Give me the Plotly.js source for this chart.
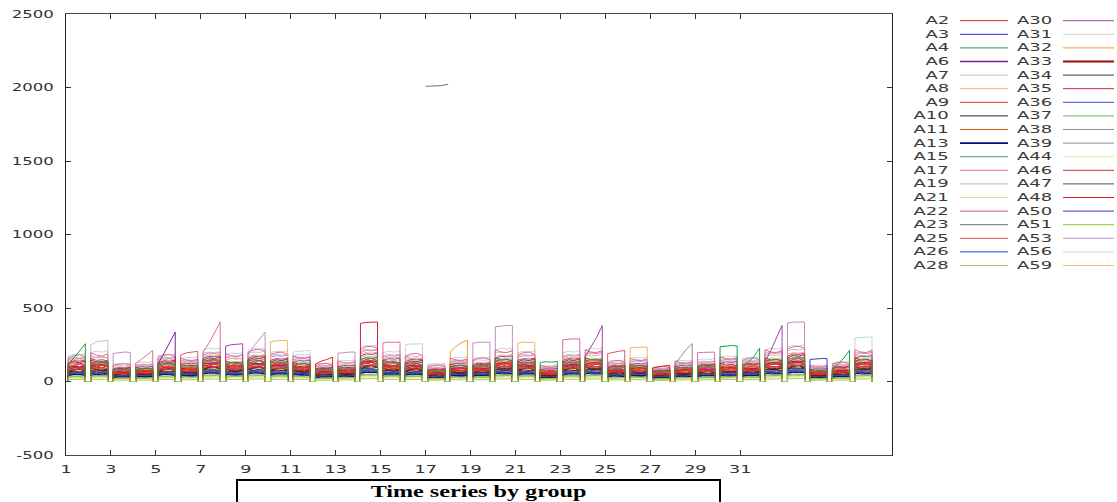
<!DOCTYPE html>
<html><head><meta charset="utf-8">
<script src="https://cdn.plot.ly/plotly-3.0.1.min.js"></script>
<style>
html,body{margin:0;padding:0;background:#fff;}
#chart{width:1117px;height:502px;}
</style></head><body><div id="chart"></div>
<script>
// ---------------- data ----------------
const seriesNames = ['A2','A3','A4','A6','A7','A8','A9','A10','A11','A13','A15','A17','A19','A21','A22','A23','A25','A26','A28',
                     'A30','A31','A32','A33','A34','A35','A36','A37','A38','A39','A44','A46','A47','A48','A50','A51','A53','A56','A59'];
const seriesColors = ['#e02828','#2828c8','#18a040','#7a1a9a','#c4c4c4','#f4b070','#e03434','#2a2a2a','#e2502a','#0a0a80','#38a878','#e46aa0','#aebcd0','#e8d890','#d25a6a','#707070','#e25050','#2040d0','#a0d058',
                      '#a040a8','#d0d0d0','#f09a38','#a00a0a','#3c3c3c','#d0203e','#3050c4','#6ac06a','#8e8e8e','#8090a4','#f0e2a4','#c03838','#505050','#e41e1e','#3c3cd4','#90c030','#c48cc4','#d6d6d6','#f0c080'];
const legendWidths = [1,1,1,1.6,1,1,1,1,1,1.8,1,1,1,1,1,1,1,1,1, 1,1,1,1.8,1,1,1,1,1,1,1,1,1,1,1,1,1,1,1];
const drawOrder = ['A31','A7','A56','A19','A44','A21','A59','A53','A17','A8','A30','A38','A39','A23','A32','A22','A25','A46','A15','A37',
                   'A36','A26','A50','A3','A13','A34','A47','A10','A33','A6','A9','A48','A35','A11','A2','A4','A51','A28'];

const A2 = [80,95,88,102, 104,96,110,99, 58,52,63,60, 62,70,66,74, 84,92,99,90, 78,86,80,75, 112,104,118,125, 90,98,93,104, 106,115,110,121,
 98,106,100,94, 88,95,84,92, 120,138,150,166, 66,74,70,78, 118,126,115,130, 95,104,110,102, 92,88,97,104, 50,57,53,60, 76,84,88,80,
 82,76,85,90, 108,116,104,112, 96,104,99,110, 54,60,52,58, 98,106,112,104, 112,106,118,124, 68,74,70,65, 82,76,86,90, 92,100,106,110,
 66,72,76,70, 74,80,72,84, 86,80,92,88, 78,84,80,88, 106,114,120,112, 118,126,132,124, 54,50,58,62, 64,70,66,74, 108,116,110,122];
const A3 = [60,66,58,64, 72,68,75,70, 40,45,38,44, 44,48,50,46, 62,58,66,64, 54,58,52,60, 75,80,72,78, 64,70,66,72, 78,74,80,76,
 68,72,75,70, 60,66,62,58, 40,44,42,46, 48,52,46,50, 82,88,85,80, 68,74,70,72, 66,62,68,70, 38,42,36,40, 55,58,54,60,
 54,58,60,56, 76,80,74,82, 70,66,72,75, 38,42,40,36, 68,72,74,70, 76,80,78,84, 48,52,50,46, 55,58,54,60, 34,38,36,32,
 48,52,50,54, 52,55,50,56, 58,62,64,60, 55,58,54,60, 76,80,78,74, 82,88,85,90, 38,40,36,42, 45,48,44,50, 76,80,82,78];
const A4 = [120,160,210,257, 125,135,128,140, 75,82,78,86, 80,88,92,86, 112,120,126,118, 100,108,104,112, 138,146,150,142, 120,128,124,132, 140,148,144,136,
 126,134,130,138, 112,120,124,116, 75,80,78,84, 88,94,90,96, 150,160,156,164, 126,134,130,124, 120,128,124,130, 70,74,72,76, 100,106,110,104,
 100,108,104,112, 140,146,150,144, 126,132,128,136, 130,134,132,136, 126,134,130,138, 140,148,144,152, 88,94,90,96, 100,106,110,104, 62,68,66,70,
 88,94,90,96, 95,100,98,104, 236,240,245,242, 110,130,170,227, 138,146,150,144, 150,158,162,156, 70,74,72,76, 90,120,160,211, 140,146,150,144];
const A6 = [95,102,98,106, 108,114,110,104, 64,68,62,70, 70,74,76,72, 120,190,260,336, 86,90,84,92, 118,124,128,122, 102,108,104,110, 118,124,120,128,
 108,112,106,114, 96,102,98,104, 64,68,66,70, 75,80,78,82, 128,136,132,140, 108,112,106,114, 102,108,104,110, 60,64,62,58, 86,90,92,88,
 86,92,88,94, 118,124,120,128, 108,114,110,104, 60,62,58,64, 108,112,116,110, 118,124,128,122, 75,80,78,82, 86,90,92,88, 54,58,56,52,
 75,80,78,82, 80,86,84,88, 92,96,94,98, 86,90,88,92, 118,124,122,128, 130,136,132,140, 60,62,58,64, 70,74,72,76, 118,124,122,128];
const A7 = [158,166,160,170, 250,270,276,280, 104,110,106,112, 114,120,116,122, 158,166,162,170, 140,148,144,150, 194,200,196,204, 168,174,170,176, 194,200,198,206,
 176,184,180,186, 160,166,162,168, 106,110,108,112, 122,128,126,130, 210,218,214,222, 176,184,180,186, 168,174,170,176, 116,120,118,122, 140,146,144,150,
 140,148,144,150, 194,200,198,206, 176,184,180,186, 96,100,98,102, 176,184,180,186, 194,200,198,206, 122,128,126,130, 140,148,144,150, 88,92,90,94,
 122,128,126,130, 132,138,136,140, 150,156,154,158, 140,148,144,150, 194,200,198,206, 210,218,214,222, 96,100,98,102, 114,120,116,122, 194,200,198,206];
const A8 = [138,150,146,156, 152,166,172,160, 92,100,96,104, 100,108,112,104, 140,150,146,154, 124,132,128,136, 170,182,178,186, 148,156,152,160, 170,180,176,184,
 270,276,280,278, 140,148,144,152, 92,98,96,102, 108,116,112,118, 186,196,192,200, 156,164,160,168, 148,156,152,160, 86,90,88,92, 124,132,128,136,
 124,132,128,136, 170,180,176,184, 262,268,265,268, 86,90,88,92, 156,164,160,168, 170,180,176,184, 108,116,112,118, 228,232,234,234, 78,82,80,84,
 108,116,112,118, 116,124,120,126, 132,140,136,142, 124,132,128,136, 170,180,176,184, 186,196,192,200, 86,90,88,92, 100,108,104,110, 170,180,176,184];
const A9 = [84,78,86,80, 92,88,95,86, 52,56,50,58, 56,62,58,60, 78,84,80,86, 70,74,68,76, 96,102,98,104, 84,88,82,90, 96,102,100,94,
 88,92,86,94, 78,84,82,80, 52,56,54,58, 60,66,62,64, 104,110,106,112, 88,92,86,94, 84,88,82,90, 48,52,50,54, 70,74,72,76,
 70,74,72,76, 96,102,100,104, 88,92,86,94, 48,52,50,54, 88,92,86,94, 96,102,100,104, 60,66,62,64, 70,74,72,76, 44,48,46,42,
 60,66,62,64, 66,70,68,72, 74,80,76,78, 70,74,72,76, 96,102,100,104, 104,110,106,112, 48,52,50,54, 56,62,58,60, 96,102,100,104];
const A10 = [60,78,85,70, 95,82,70,76, 40,52,58,46, 58,48,44,56, 62,80,90,72, 70,58,64,52, 76,96,100,84, 88,72,66,80, 78,92,100,86,
 70,86,90,78, 80,66,60,74, 42,54,50,46, 62,50,48,58, 84,100,108,92, 90,74,70,84, 66,82,86,72, 38,48,52,44, 70,58,54,66,
 56,70,74,62, 96,80,76,92, 72,86,92,78, 50,40,38,46, 70,86,92,76, 98,82,78,94, 48,60,64,52, 72,58,56,68, 34,44,46,38,
 62,50,48,58, 52,66,70,56, 76,62,58,72, 56,70,74,60, 98,82,80,94, 84,102,108,90, 50,40,38,46, 46,58,62,50, 98,80,76,92];
const A11 = [95,112,125,110, 130,115,108,124, 64,76,82,70, 86,72,68,80, 96,115,124,108, 104,90,86,100, 120,140,146,130, 124,106,100,118, 118,138,144,128,
 108,126,132,116, 116,100,96,112, 64,78,82,70, 92,78,74,88, 130,150,158,140, 128,112,108,124, 102,120,126,110, 58,70,74,62, 104,90,86,100,
 86,102,108,92, 140,124,118,136, 108,126,132,116, 72,60,58,68, 108,126,132,116, 142,124,118,138, 74,88,92,80, 104,90,86,100, 52,64,66,56,
 92,78,74,88, 80,96,100,86, 110,94,90,106, 86,102,108,92, 142,124,120,138, 130,150,156,138, 72,60,58,68, 70,84,88,74, 142,124,118,138];
const A13 = [42,48,46,44, 52,48,50,54, 28,32,30,34, 30,34,32,36, 44,48,46,42, 38,42,40,44, 52,58,56,54, 46,50,48,52, 54,58,56,52,
 48,52,50,54, 44,48,46,42, 28,32,30,34, 34,38,36,32, 58,62,60,64, 48,52,50,54, 46,50,48,52, 26,30,28,32, 38,42,40,44,
 38,42,40,44, 52,58,56,54, 48,52,50,54, 26,30,28,32, 48,52,50,54, 52,58,56,54, 34,38,36,32, 38,42,40,44, 24,28,26,22,
 34,38,36,32, 36,40,38,42, 40,44,42,46, 38,42,40,44, 52,58,56,54, 58,62,60,64, 26,30,28,32, 30,34,32,36, 52,58,56,54];
const A15 = [46,58,62,50, 68,56,52,62, 30,40,42,34, 44,36,34,42, 48,60,62,50, 54,44,42,50, 58,70,74,62, 64,52,50,60, 60,70,74,64,
 52,64,68,56, 60,50,48,56, 32,40,42,34, 46,38,36,44, 64,78,80,68, 66,54,52,62, 50,62,64,54, 30,36,38,32, 54,44,42,50,
 42,52,54,46, 72,60,58,68, 54,64,68,56, 36,30,28,34, 54,64,68,56, 72,60,58,68, 38,46,48,40, 54,44,42,50, 26,34,34,28,
 46,38,36,44, 40,50,52,42, 56,46,44,52, 42,52,54,46, 72,60,58,68, 64,78,80,68, 36,30,28,34, 34,42,44,36, 72,60,58,68];
const A17 = [160,175,182,168, 195,180,172,188, 108,118,122,112, 125,150,180,211, 165,178,184,170, 158,146,140,152, 200,260,330,405, 188,174,170,184, 200,214,220,206,
 182,196,200,186, 176,162,158,170, 108,120,124,112, 140,128,124,136, 220,236,240,226, 262,268,266,268, 174,188,192,178, 100,110,112,104, 158,146,142,154,
 144,158,162,148, 216,200,196,212, 182,196,200,186, 110,100,98,106, 284,288,290,290, 216,200,196,212, 126,140,144,130, 158,146,142,154, 90,100,102,94,
 140,128,124,136, 196,198,200,200, 168,156,152,164, 144,158,162,148, 216,200,196,212, 220,236,240,226, 110,100,98,106, 118,130,132,122, 216,200,196,212];
const A19 = [120,132,128,136, 146,134,138,130, 80,88,84,90, 88,94,90,96, 120,130,126,134, 108,116,112,118, 148,160,156,162, 128,138,134,140, 150,158,154,162,
 134,146,142,148, 122,130,126,132, 80,88,84,90, 94,102,98,104, 162,174,170,176, 134,146,142,148, 128,138,134,140, 74,80,78,82, 108,116,112,118,
 108,116,112,118, 148,160,156,162, 134,146,142,148, 74,80,78,82, 134,146,142,148, 148,160,156,162, 94,102,98,104, 108,116,112,118, 66,74,70,76,
 94,102,98,104, 100,110,106,112, 114,124,120,126, 108,116,112,118, 148,160,156,162, 162,174,170,176, 74,80,78,82, 88,94,90,96, 148,160,156,162];
const A21 = [25,28,30,26, 32,28,30,34, 16,20,18,22, 18,22,20,24, 25,28,30,26, 22,26,24,28, 30,34,36,32, 28,30,32,26, 30,34,36,32,
 28,32,30,34, 25,28,30,26, 16,20,18,22, 20,22,24,20, 34,38,36,40, 28,32,30,34, 28,30,32,26, 15,18,16,20, 22,26,24,28,
 22,26,24,28, 30,34,36,32, 28,32,30,34, 15,18,16,20, 28,32,30,34, 30,34,36,32, 20,22,24,20, 22,26,24,28, 14,16,15,18,
 20,22,24,20, 21,24,23,26, 24,28,26,30, 22,26,24,28, 30,34,36,32, 34,38,36,40, 15,18,16,20, 18,22,20,24, 30,34,36,32];
const A22 = [110,100,118,106, 112,126,118,130, 74,66,80,70, 76,84,72,82, 114,100,108,120, 180,195,200,205, 126,138,130,142, 118,108,122,112, 136,124,140,128,
 114,128,120,132, 112,100,106,118, 70,78,66,76, 88,80,92,84, 150,136,144,156, 114,128,120,132, 118,108,122,112, 62,70,66,72, 100,92,98,104,
 92,102,96,106, 138,126,132,144, 114,128,120,132, 70,62,68,64, 114,128,120,132, 138,126,132,144, 190,200,206,211, 100,92,98,104, 58,66,62,68,
 88,80,92,84, 94,86,98,90, 106,96,102,110, 92,102,96,106, 138,126,132,144, 150,136,144,156, 70,62,68,64, 82,74,80,76, 138,126,132,144];
const A23 = [95,85,80,92, 92,104,112,98, 64,56,52,60, 60,70,74,64, 96,86,82,92, 74,84,88,78, 116,104,100,112, 90,100,104,94, 116,104,100,112,
 96,106,110,100, 94,84,80,90, 56,64,66,60, 74,66,64,70, 114,126,130,118, 104,94,90,100, 90,100,104,94, 58,50,48,54, 76,86,88,80,
 84,76,72,80, 104,116,120,108, 104,94,90,100, 52,60,62,56, 104,94,90,100, 104,116,120,108, 74,66,64,70, 76,86,88,80, 52,46,44,50,
 66,74,76,70, 78,70,68,74, 80,90,92,84, 84,76,72,80, 104,116,120,108, 126,114,110,122, 52,60,62,56, 68,60,58,64, 104,116,120,108];
const A23_outlierGroup = 17;
const A23_outlierValues = [2008, 2010, 2012, 2022];
const A25 = [92,106,100,110, 116,104,110,100, 62,70,66,72, 76,68,72,66, 94,104,100,108, 92,84,88,82, 116,128,124,132, 110,100,104,96, 114,126,122,130,
 104,116,112,120, 104,94,98,92, 62,70,68,74, 82,74,78,72, 126,140,136,144, 116,104,108,100, 100,110,106,114, 56,64,62,66, 92,84,88,82,
 84,94,90,96, 128,116,120,112, 104,116,112,120, 64,56,60,54, 104,116,112,120, 128,116,120,112, 72,80,78,84, 92,84,88,82, 52,58,56,60,
 82,74,78,72, 78,88,84,90, 98,88,92,86, 84,94,90,96, 128,116,120,112, 126,140,136,144, 64,56,60,54, 68,76,74,78, 128,116,120,112];
const A26 = [52,56,50,58, 62,58,64,56, 34,38,36,40, 38,40,36,42, 52,56,54,50, 46,50,48,44, 64,68,62,70, 55,60,58,54, 64,70,66,62,
 58,62,60,64, 52,56,54,50, 34,38,36,40, 40,44,42,38, 70,74,72,68, 58,62,60,64, 55,60,58,54, 32,34,30,36, 46,50,48,44,
 46,50,48,52, 64,68,62,70, 58,62,60,64, 32,34,30,36, 58,62,60,64, 64,68,62,70, 40,44,42,38, 46,50,48,44, 28,32,30,26,
 40,44,42,38, 44,46,42,48, 50,52,48,54, 46,50,48,52, 64,68,62,70, 70,74,72,68, 32,34,30,36, 38,40,36,42, 64,68,62,70];
const A28 = [12,14,13,15, 15,14,16,15, 8,10,9,10, 9,10,11,10, 13,14,12,15, 12,13,11,12, 16,17,15,18, 14,15,13,14, 16,17,15,18,
 15,16,14,15, 13,14,12,15, 8,10,9,10, 10,11,10,12, 18,19,17,20, 15,16,14,15, 14,15,13,14, 8,9,8,10, 12,13,11,12,
 12,13,11,12, 16,17,15,18, 15,16,14,15, 8,9,8,10, 15,16,14,15, 16,17,15,18, 10,11,10,12, 12,13,11,12, 7,8,7,8,
 10,11,10,12, 11,12,10,12, 13,14,12,14, 12,13,11,12, 16,17,15,18, 18,19,17,20, 8,9,8,10, 9,10,11,10, 16,17,15,18];
const A30 = [128,142,138,146, 156,144,148,140, 86,94,92,96, 94,102,98,104, 128,142,138,146, 116,124,120,128, 158,172,168,176, 240,250,255,257, 158,172,168,176,
 144,156,152,160, 128,142,138,146, 86,94,92,96, 100,110,106,112, 172,188,184,192, 144,156,152,160, 136,150,146,152, 80,86,84,88, 116,124,120,128,
 116,124,120,128, 158,172,168,176, 144,156,152,160, 80,86,84,88, 144,156,152,160, 170,240,300,381, 100,110,106,112, 116,124,120,128, 72,78,76,80,
 100,110,106,112, 108,118,114,120, 122,134,130,136, 116,124,120,128, 130,210,300,381, 172,188,184,192, 80,86,84,88, 94,102,98,104, 158,172,168,176];
const A31 = [176,184,180,188, 196,206,200,210, 116,124,120,126, 126,134,130,136, 176,184,180,188, 156,164,160,166, 214,226,220,228, 186,194,190,196, 214,226,220,228,
 196,206,200,210, 176,184,180,188, 116,124,120,126, 136,144,140,146, 234,246,240,250, 196,206,200,210, 250,255,257,256, 106,112,110,114, 156,164,160,166,
 156,164,160,166, 214,226,220,228, 196,206,200,210, 106,112,110,114, 196,206,200,210, 214,226,220,228, 136,144,140,146, 156,164,160,166, 96,102,100,104,
 136,144,140,146, 146,154,150,156, 166,174,170,176, 156,164,160,166, 214,226,220,228, 234,246,240,250, 106,112,110,114, 126,134,130,136, 296,300,302,302];
const A32 = [110,124,118,128, 136,122,128,118, 72,82,78,86, 90,80,84,78, 110,124,118,128, 108,98,102,96, 136,150,146,154, 130,118,122,114, 134,150,144,154,
 122,136,130,140, 122,110,114,106, 72,82,78,86, 96,86,90,84, 148,164,158,168, 136,122,128,118, 116,130,124,134, 66,76,72,78, 200,240,265,280,
 96,110,104,114, 150,136,140,132, 122,136,130,140, 76,66,70,64, 122,136,130,140, 150,136,140,132, 84,96,92,100, 110,98,102,96, 60,68,66,72,
 96,86,90,84, 92,104,100,108, 116,104,108,100, 96,110,104,114, 150,136,140,132, 148,164,158,168, 76,66,70,64, 80,90,86,94, 150,136,140,132];
const A33 = [70,80,84,74, 90,80,78,86, 46,54,56,50, 58,52,50,56, 70,80,84,74, 72,64,62,68, 86,98,100,90, 86,78,76,82, 86,98,100,90,
 78,88,92,82, 82,74,72,78, 46,54,56,50, 64,56,54,60, 94,106,110,98, 90,80,78,86, 74,84,88,78, 42,50,52,46, 72,64,62,68,
 62,72,74,66, 100,90,88,96, 78,88,92,82, 50,44,42,48, 78,88,92,82, 100,90,88,96, 54,64,66,58, 72,64,62,68, 38,46,48,42,
 64,56,54,60, 58,68,70,62, 76,68,66,72, 62,72,74,66, 100,90,88,96, 94,106,110,98, 50,44,42,48, 50,58,60,54, 100,90,88,96];
const A34 = [64,70,66,72, 72,78,74,76, 42,46,44,48, 46,50,48,52, 64,70,66,72, 58,62,60,64, 80,86,82,88, 68,74,70,76, 80,86,82,88,
 72,78,74,76, 64,70,66,72, 42,46,44,48, 50,56,52,54, 86,94,90,96, 72,78,74,76, 68,74,70,76, 40,42,44,40, 58,62,60,64,
 58,62,60,64, 80,86,82,88, 72,78,74,76, 40,42,44,40, 72,78,74,76, 80,86,82,88, 50,56,52,54, 58,62,60,64, 36,40,38,40,
 50,56,52,54, 54,58,56,60, 62,66,64,68, 58,62,60,64, 80,86,82,88, 86,94,90,96, 40,42,44,40, 46,50,48,52, 80,86,82,88];
const A35 = [118,134,128,140, 146,132,136,126, 78,90,86,94, 96,86,90,82, 118,134,128,140, 118,106,110,102, 146,162,156,168, 140,126,130,122, 146,162,156,168,
 132,148,142,154, 132,118,122,114, 78,90,86,94, 104,92,96,88, 395,402,405,405, 146,132,136,126, 124,140,134,146, 72,82,78,86, 118,106,110,102,
 104,118,112,122, 162,146,150,140, 132,148,142,154, 82,72,76,70, 132,148,142,154, 162,146,150,140, 90,104,100,108, 118,106,110,102, 64,74,72,78,
 104,92,96,88, 98,112,108,116, 126,112,116,108, 104,118,112,122, 162,146,150,140, 160,178,172,184, 82,72,76,70, 86,98,94,102, 162,146,150,140];
const A36 = [40,48,50,44, 54,46,44,50, 26,32,34,28, 36,30,28,34, 40,48,50,44, 44,36,34,40, 50,58,60,54, 52,44,42,48, 50,58,60,54,
 44,52,54,48, 50,42,40,46, 26,32,34,28, 38,32,30,36, 54,62,66,58, 54,46,44,50, 42,50,52,46, 24,30,32,26, 44,36,34,40,
 36,42,44,38, 60,52,50,56, 44,52,54,48, 30,26,24,28, 44,52,54,48, 60,52,50,56, 32,38,40,34, 44,36,34,40, 22,28,28,24,
 38,32,30,36, 34,40,42,36, 46,38,36,42, 36,42,44,38, 60,52,50,56, 54,62,66,58, 30,26,24,28, 28,34,36,30, 60,52,50,56];
const A37 = [34,38,36,40, 40,42,38,44, 22,24,26,24, 24,26,28,26, 34,38,36,40, 30,34,32,34, 42,46,44,48, 36,40,38,40, 42,46,44,48,
 40,42,38,44, 34,38,36,40, 22,24,26,24, 26,30,28,30, 46,50,48,52, 40,42,38,44, 36,40,38,40, 20,22,24,22, 30,34,32,34,
 30,34,32,34, 42,46,44,48, 40,42,38,44, 20,22,24,22, 40,42,38,44, 42,46,44,48, 26,30,28,30, 30,34,32,34, 18,20,22,20,
 26,30,28,30, 28,32,30,32, 32,36,34,36, 30,34,32,34, 42,46,44,48, 46,50,48,52, 20,22,24,22, 24,26,28,26, 42,46,44,48];
const A38 = [100,112,116,104, 124,112,108,118, 64,74,78,68, 82,74,70,78, 100,112,116,104, 100,90,86,96, 124,138,142,128, 118,106,102,112, 124,138,142,128,
 112,124,128,116, 112,100,96,106, 66,76,80,70, 88,78,76,84, 136,150,156,140, 124,112,108,118, 106,118,122,110, 60,70,72,64, 100,90,86,96,
 88,100,104,92, 140,126,122,134, 112,124,128,116, 70,62,60,66, 112,124,128,116, 140,126,122,134, 76,88,90,80, 100,90,86,96, 54,62,64,58,
 120,170,220,258, 84,96,98,88, 106,96,92,102, 88,100,104,92, 140,126,122,134, 136,150,156,140, 70,62,60,66, 72,82,84,76, 140,126,122,134];
const A39 = [76,86,82,88, 94,84,88,82, 50,58,56,60, 62,56,58,54, 76,86,82,88, 76,68,70,66, 94,104,100,108, 90,80,84,78, 94,104,100,108,
 84,96,92,98, 86,76,78,74, 50,58,56,60, 66,58,62,56, 102,114,110,118, 94,84,88,82, 80,90,86,92, 46,52,50,56, 76,68,70,66,
 66,76,72,78, 104,94,96,90, 84,96,92,98, 52,46,48,44, 84,96,92,98, 104,94,96,90, 58,66,64,70, 76,68,70,66, 42,48,46,50,
 66,58,62,56, 62,72,70,74, 80,72,74,70, 66,76,72,78, 104,94,96,90, 102,114,110,118, 52,46,48,44, 54,62,60,64, 104,94,96,90];
const A44 = [20,24,22,26, 26,24,28,25, 14,16,15,17, 16,17,18,16, 20,24,22,26, 18,21,20,22, 26,29,28,30, 22,25,24,26, 26,29,28,30,
 24,26,25,27, 20,24,22,26, 14,16,15,17, 16,18,17,19, 28,31,30,32, 24,26,25,27, 22,25,24,26, 13,14,15,14, 18,21,20,22,
 18,21,20,22, 26,29,28,30, 24,26,25,27, 13,14,15,14, 24,26,25,27, 26,29,28,30, 16,18,17,19, 18,21,20,22, 12,13,12,14,
 16,18,17,19, 18,19,18,20, 20,22,21,23, 18,21,20,22, 26,29,28,30, 28,31,30,32, 13,14,15,14, 16,17,18,16, 26,29,28,30];
const A46 = [82,94,98,86, 108,96,92,104, 54,62,64,56, 70,62,60,66, 82,94,98,86, 84,76,74,80, 102,116,120,106, 100,90,86,96, 102,116,120,106,
 94,104,108,96, 96,86,82,90, 54,62,64,56, 76,66,64,72, 112,126,130,116, 108,96,92,104, 88,98,102,92, 50,58,60,52, 84,76,74,80,
 74,84,86,76, 116,104,100,112, 94,104,108,96, 60,52,50,56, 94,104,108,96, 116,104,100,112, 64,74,76,66, 84,76,74,80, 46,52,54,48,
 76,66,64,72, 70,80,82,72, 90,80,78,86, 74,84,86,76, 116,104,100,112, 112,126,130,116, 60,52,50,56, 60,68,70,62, 116,104,100,112];
const A47 = [56,60,58,62, 64,66,62,68, 36,40,38,42, 40,44,42,44, 56,60,58,62, 50,54,52,56, 68,74,70,76, 60,64,62,66, 68,74,70,76,
 64,66,62,68, 56,60,58,62, 36,40,38,42, 44,48,46,48, 74,80,78,82, 64,66,62,68, 60,64,62,66, 34,36,38,36, 50,54,52,56,
 50,54,52,56, 68,74,70,76, 64,66,62,68, 34,36,38,36, 64,66,62,68, 68,74,70,76, 44,48,46,48, 50,54,52,56, 30,34,32,34,
 44,48,46,48, 46,50,48,52, 54,58,56,60, 50,54,52,56, 68,74,70,76, 74,80,78,82, 34,36,38,36, 40,44,42,44, 68,74,70,76];
const A48 = [104,96,92,100, 104,114,118,108, 68,62,58,64, 66,74,76,70, 104,96,92,100, 82,92,94,86, 128,118,114,124, 100,110,112,104, 128,118,114,124,
 106,116,120,110, 104,96,92,100, 62,70,72,66, 82,74,72,78, 124,138,142,130, 116,106,102,112, 100,110,112,104, 64,58,56,62, 82,92,94,86,
 94,86,82,90, 114,126,130,118, 116,106,102,112, 56,64,66,60, 116,106,102,112, 114,126,130,118, 82,74,72,78, 82,92,94,86, 58,52,50,56,
 72,80,82,76, 88,80,78,84, 88,98,100,92, 94,86,82,90, 114,126,130,118, 140,128,124,136, 56,64,66,60, 76,68,66,72, 114,126,130,118];
const A50 = [46,52,50,54, 56,52,58,54, 30,34,32,36, 34,38,36,38, 46,52,50,54, 42,46,44,48, 58,64,60,66, 50,54,52,56, 58,64,60,66,
 56,52,58,54, 46,52,50,54, 30,34,32,36, 36,40,38,42, 64,70,66,72, 56,52,58,54, 50,54,52,56, 28,32,30,32, 42,46,44,48,
 42,46,44,48, 58,64,60,66, 56,52,58,54, 28,32,30,32, 56,52,58,54, 58,64,60,66, 36,40,38,42, 42,46,44,48, 26,28,27,30,
 36,40,38,42, 40,42,40,44, 44,48,46,50, 42,46,44,48, 58,64,60,66, 64,70,66,72, 150,154,156,156, 34,38,36,38, 58,64,60,66];
const A51 = [30,34,32,28, 34,36,38,34, 20,22,21,23, 22,24,23,25, 30,34,32,28, 26,30,28,30, 38,40,39,42, 32,34,33,36, 38,40,39,42,
 34,36,38,34, 30,34,32,28, 20,22,21,23, 24,26,25,27, 40,44,42,45, 34,36,38,34, 32,34,33,36, 18,20,19,21, 26,30,28,30,
 26,30,28,30, 38,40,39,42, 34,36,38,34, 18,20,19,21, 34,36,38,34, 38,40,39,42, 24,26,25,27, 26,30,28,30, 16,18,17,19,
 24,26,25,27, 25,27,26,28, 28,31,30,32, 26,30,28,30, 38,40,39,42, 40,44,42,45, 18,20,19,21, 22,24,23,25, 38,40,39,42];
const A53 = [146,160,156,164, 176,162,166,158, 190,196,200,198, 106,114,110,116, 146,160,156,164, 130,140,136,142, 180,194,190,198, 168,156,160,152, 180,240,290,336,
 164,176,172,180, 146,160,156,164, 98,106,104,110, 192,198,200,200, 196,212,208,216, 164,176,172,180, 168,156,160,152, 90,98,96,100, 130,140,136,142,
 262,266,268,268, 372,378,381,381, 164,176,172,180, 90,98,96,100, 164,176,172,180, 180,194,190,198, 114,124,120,126, 130,140,136,142, 82,88,86,90,
 114,124,120,126, 122,134,130,136, 140,150,146,152, 130,140,136,142, 180,194,190,198, 398,404,405,405, 90,98,96,100, 106,114,110,116, 180,194,190,198];
const A56 = [112,122,118,126, 134,124,128,120, 74,82,80,86, 88,80,84,78, 112,122,118,126, 106,98,100,94, 136,148,144,152, 128,118,122,114, 136,148,144,152,
 124,134,130,138, 200,206,211,211, 74,82,80,86, 94,86,90,84, 150,162,158,166, 134,124,128,120, 118,128,124,132, 68,76,74,78, 106,98,100,94,
 98,108,104,112, 148,136,140,132, 124,134,130,138, 74,68,70,66, 124,134,130,138, 148,136,140,132, 86,96,92,98, 106,98,100,94, 62,68,66,70,
 94,86,90,84, 92,102,98,104, 114,106,108,102, 98,108,104,112, 148,136,140,132, 150,162,158,166, 74,68,70,66, 80,88,86,92, 148,136,140,132];
const A59 = [70,74,72,76, 78,82,80,84, 46,50,48,52, 50,54,52,56, 70,74,72,76, 62,66,64,68, 86,92,88,94, 74,78,76,80, 86,92,88,94,
 78,82,80,84, 70,74,72,76, 46,50,48,52, 54,58,56,60, 94,100,96,102, 78,82,80,84, 74,78,76,80, 42,46,44,48, 62,66,64,68,
 62,66,64,68, 86,92,88,94, 78,82,80,84, 42,46,44,48, 78,82,80,84, 86,92,88,94, 54,58,56,60, 62,66,64,68, 38,42,40,44,
 54,58,56,60, 58,62,60,64, 66,70,68,72, 62,66,64,68, 86,92,88,94, 94,100,96,102, 42,46,44,48, 50,54,52,56, 86,92,88,94];

const seriesValues = [A2,A3,A4,A6,A7,A8,A9,A10,A11,A13,A15,A17,A19,A21,A22,A23,A25,A26,A28,
                      A30,A31,A32,A33,A34,A35,A36,A37,A38,A39,A44,A46,A47,A48,A50,A51,A53,A56,A59];
const groupCount = 36;
const pointsPerGroup = 4;
const xTickVals = [1,3,5,7,9,11,13,15,17,19,21,23,25,27,29,31];
const yTickVals = [-500,0,500,1000,1500,2000,2500];

// ---------------- geometry ----------------
const W = 1117, H = 502, ML = 66, MR = 225, MT = 14, MB = 47;
const PW = W - ML - MR, PH = H - MT - MB;
const px2x = p => (p - ML) / PW;
const py2y = p => (H - MB - p) / PH;
const GSTART = 0.1, GEND = 0.86;

function buildTrace(i) {
  const vals = seriesValues[i];
  const x = [], y = [];
  for (let g = 0; g < groupCount; g++) {
    const k = g + 1;
    const x0 = k + GSTART, x1 = k + GEND;
    x.push(x0); y.push(0);
    for (let j = 0; j < pointsPerGroup; j++) {
      x.push(x0 + (x1 - x0) * j / (pointsPerGroup - 1));
      y.push(vals[g * pointsPerGroup + j]);
    }
    x.push(x1); y.push(0);
  }
  if (seriesNames[i] === 'A23') {
    x.push(null); y.push(null);
    const n = A23_outlierValues.length;
    A23_outlierValues.forEach((v, j) => { x.push(A23_outlierGroup + j / (n - 1)); y.push(v); });
  }
  return {type:'scatter', mode:'lines', name: seriesNames[i], x, y,
          line:{color: seriesColors[i], width: 1}, hoverinfo:'skip', showlegend:false};
}
const traces = drawOrder.map(nm => buildTrace(seriesNames.indexOf(nm)));

// ---------------- custom legend (text first, sample after) ----------------
const annotations = [{
  text:'<b>Time series by group</b>', xref:'paper', yref:'paper',
  x: px2x(478.5), y: py2y(479), xanchor:'center', yanchor:'top', showarrow:false,
  width: 479, height: 30, valign:'top', bordercolor:'#000', borderwidth:2, borderpad:1, bgcolor:'#fff',
  font:{family:'Liberation Serif', size:17, color:'#000'}
}];
const shapes = [];
const rowsPerCol = 19;
seriesNames.forEach((nm, i) => {
  const col = Math.floor(i / rowsPerCol), row = i % rowsPerCol;
  const py = 20.7 + row * 13.6;
  const yy = py2y(py);
  if (col === 0) {
    annotations.push({text: nm, xref:'paper', yref:'paper', x: px2x(950), y: yy, xanchor:'right', align:'right', yanchor:'middle',
      showarrow:false, font:{family:'DejaVu Sans', size:10, color:'#3a3a3a'}, borderpad:0});
    shapes.push({type:'line', xref:'paper', yref:'paper', x0: px2x(960), x1: px2x(1008), y0: yy, y1: yy,
      line:{color: seriesColors[i], width: legendWidths[i]}});
  } else {
    annotations.push({text: nm, xref:'paper', yref:'paper', x: px2x(1016), y: yy, xanchor:'left', align:'left', yanchor:'middle',
      showarrow:false, font:{family:'DejaVu Sans', size:10, color:'#3a3a3a'}, borderpad:0});
    shapes.push({type:'line', xref:'paper', yref:'paper', x0: px2x(1063), x1: px2x(1114), y0: yy, y1: yy,
      line:{color: seriesColors[i], width: legendWidths[i]}});
  }
});

const layout = {
  width: W, height: H,
  margin:{l:ML, r:MR, t:MT, b:MB, pad:0},
  paper_bgcolor:'#fff', plot_bgcolor:'#fff',
  showlegend:false,
  xaxis:{range:[1, 37.75], tickmode:'array', tickvals:xTickVals, ticktext:xTickVals.map(String),
         ticks:'inside', ticklen:5, tickwidth:1, tickcolor:'#333', showline:true, linecolor:'#444', linewidth:1, mirror:'ticks',
         showgrid:false, zeroline:false, ticklabelstandoff:4, tickfont:{family:'DejaVu Sans', size:11, color:'#333'}},
  yaxis:{range:[-500, 2500], tickmode:'array', tickvals:yTickVals, ticktext:yTickVals.map(String),
         ticks:'inside', ticklen:5, tickwidth:1, tickcolor:'#333', showline:true, linecolor:'#222', linewidth:1, mirror:'ticks',
         showgrid:false, zeroline:false, ticklabelstandoff:9, tickfont:{family:'DejaVu Sans', size:11, color:'#333'}},
  annotations, shapes
};

function stretchTexts() {
  const apply = (el, f) => {
    const w = el.getComputedTextLength();
    if (w > 0) { el.setAttribute('textLength', (w * f).toFixed(1)); el.setAttribute('lengthAdjust', 'spacingAndGlyphs'); }
  };
  document.querySelectorAll('.xtick text').forEach(el => apply(el, 1.6));
  document.querySelectorAll('.ytick text').forEach(el => apply(el, 1.5));
  document.querySelectorAll('g.annotation').forEach(g => {
    const idx = +g.getAttribute('data-index');
    const t = g.querySelector('text.annotation-text');
    if (t) apply(t, idx === 0 ? 1.42 : 1.8);
  });
}
Plotly.newPlot('chart', traces, layout, {staticPlot:true, displayModeBar:false, responsive:false}).then(stretchTexts);
</script>
</body></html>
